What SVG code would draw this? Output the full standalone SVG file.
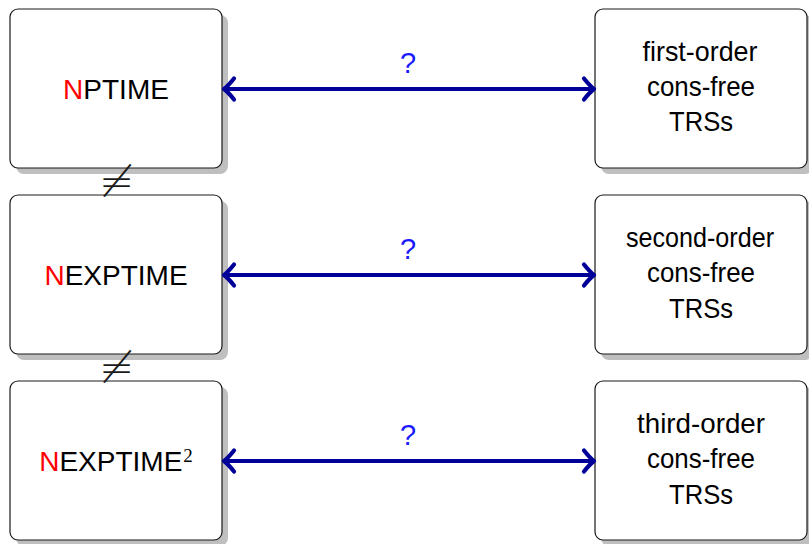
<svg xmlns="http://www.w3.org/2000/svg" width="809" height="544" viewBox="0 0 809 544">
  <defs>
    <style>
      .shadow { fill: #bfbfbf; }
      .box { fill: #ffffff; stroke: #1a1a1a; stroke-width: 1.2; }
      .lbl { font-family: "Liberation Sans", Arial, sans-serif; font-size: 28px; fill: #000000; text-anchor: middle; }
      .red { fill: #ff0000; }
      .sup { font-family: "Liberation Serif", "Times New Roman", serif; font-size: 19px; }
      .q { font-family: "Liberation Sans", Arial, sans-serif; font-size: 29px; fill: #1a1aff; text-anchor: middle; }
      .link { stroke: #000099; stroke-width: 4.2; fill: none; }
      .neq { font-family: "DejaVu Sans", sans-serif; font-weight: 200; font-size: 42px; fill: #1a1a1a; text-anchor: middle; }
    </style>
    <marker id="chev" markerUnits="userSpaceOnUse" markerWidth="30" markerHeight="30" refX="0" refY="0" orient="auto-start-reverse" overflow="visible">
      <path d="M-10,-10.5 Q-4,-3 0,0 Q-4,3 -10,10.5" fill="none" stroke="#000099" stroke-width="4.2" stroke-linecap="round" stroke-linejoin="round"/>
    </marker>
  </defs>

  <!-- complexity classes (left column) -->
  <g id="nptime">
    <rect class="shadow" x="16" y="15" width="212" height="159" rx="8"/>
    <rect class="box" x="10" y="9" width="212" height="159" rx="8"/>
    <text class="lbl" x="116" y="99"><tspan class="red">N</tspan>PTIME</text>
  </g>
  <g id="nexptime">
    <rect class="shadow" x="16" y="201" width="212" height="159" rx="8"/>
    <rect class="box" x="10" y="195" width="212" height="159" rx="8"/>
    <text class="lbl" x="116" y="284.5"><tspan class="red">N</tspan>EXPTIME</text>
  </g>
  <g id="nexptime2">
    <rect class="shadow" x="16" y="387" width="212" height="159" rx="8"/>
    <rect class="box" x="10" y="381" width="212" height="159" rx="8"/>
    <text class="lbl" x="116" y="471"><tspan class="red">N</tspan>EXPTIME<tspan class="sup" dx="1" dy="-9">2</tspan></text>
  </g>

  <!-- rewriting systems (right column) -->
  <g id="first-order">
    <rect class="shadow" x="601" y="15" width="212" height="159" rx="8"/>
    <rect class="box" x="595" y="9" width="212" height="159" rx="8"/>
    <text class="lbl" x="700" y="60.5" textLength="115" lengthAdjust="spacingAndGlyphs">first-order</text>
    <text class="lbl" x="701" y="96" textLength="108" lengthAdjust="spacingAndGlyphs">cons-free</text>
    <text class="lbl" x="701" y="131" textLength="64" lengthAdjust="spacingAndGlyphs">TRSs</text>
  </g>
  <g id="second-order">
    <rect class="shadow" x="601" y="201" width="212" height="159" rx="8"/>
    <rect class="box" x="595" y="195" width="212" height="159" rx="8"/>
    <text class="lbl" x="700" y="246.5" textLength="148" lengthAdjust="spacingAndGlyphs">second-order</text>
    <text class="lbl" x="701" y="282" textLength="108" lengthAdjust="spacingAndGlyphs">cons-free</text>
    <text class="lbl" x="701" y="317.5" textLength="64" lengthAdjust="spacingAndGlyphs">TRSs</text>
  </g>
  <g id="third-order">
    <rect class="shadow" x="601" y="387" width="212" height="159" rx="8"/>
    <rect class="box" x="595" y="381" width="212" height="159" rx="8"/>
    <text class="lbl" x="701" y="432.5" textLength="128" lengthAdjust="spacingAndGlyphs">third-order</text>
    <text class="lbl" x="701" y="468" textLength="108" lengthAdjust="spacingAndGlyphs">cons-free</text>
    <text class="lbl" x="701" y="503.5" textLength="64" lengthAdjust="spacingAndGlyphs">TRSs</text>
  </g>

  <!-- connectors -->
  <g id="connectors">
    <line class="link" x1="224" y1="89" x2="594" y2="89" marker-start="url(#chev)" marker-end="url(#chev)"/>
    <text class="q" x="408" y="72.5">?</text>
    <line class="link" x1="224" y1="275" x2="594" y2="275" marker-start="url(#chev)" marker-end="url(#chev)"/>
    <text class="q" x="408" y="258.5">?</text>
    <line class="link" x1="224" y1="461" x2="594" y2="461" marker-start="url(#chev)" marker-end="url(#chev)"/>
    <text class="q" x="408" y="444.5">?</text>
    <text class="neq" x="116.5" y="195.5">≠</text>
    <text class="neq" x="116.5" y="381.5">≠</text>
  </g>
</svg>
